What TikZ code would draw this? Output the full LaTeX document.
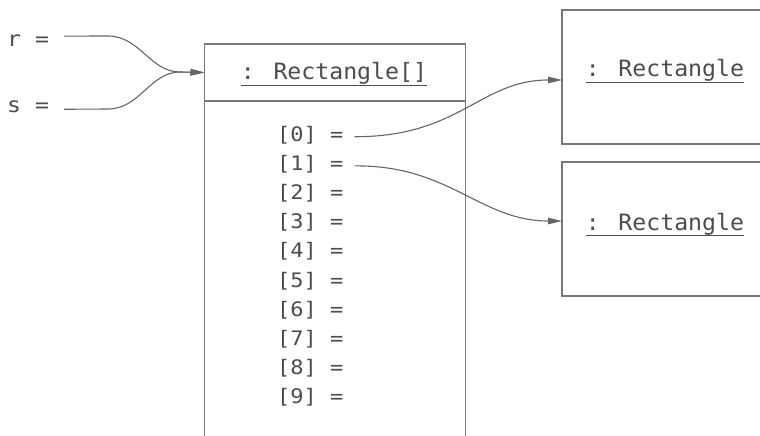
\documentclass[tikz,border=0pt]{standalone}
\usepackage{fontspec}
\newfontfamily\gothic[FakeStretch=1.1]{DejaVu Sans Mono}
\newfontfamily\gothichead[FakeStretch=1.03]{DejaVu Sans Mono}
\usetikzlibrary{arrows.meta}
\definecolor{ink}{HTML}{4C4C4C}
\definecolor{edge}{HTML}{777777}
\definecolor{wire}{HTML}{666666}
\newcommand\ulbox[1]{\setbox0\hbox{#1}\rlap{\rule[-6pt]{\wd0}{1.1pt}}\box0}
\tikzset{
  objbox/.style={draw=edge, line width=1.1pt, anchor=north west, inner sep=0pt, outer sep=0pt},
  headtext/.style={anchor=base, inner sep=0pt, text=ink, font=\gothichead\fontsize{22.5}{26}\selectfont},
  rowtext/.style={anchor=base west, inner sep=0pt, text=ink, font=\gothic\fontsize{20}{24}\selectfont},
  vartext/.style={anchor=base west, inner sep=0pt, text=ink, font=\gothic\fontsize{21}{25}\selectfont},
  conn/.style={draw=wire, line width=1.1pt, -{Triangle[length=14pt,width=6.5pt]}},
}
\begin{document}
\begin{tikzpicture}[x=1pt,y=-1pt]
\useasboundingbox (0,0) rectangle (760,436);
\clip (0,0) rectangle (760,436);
\fill[white] (0,0) rectangle (760,436);

% array object
\node[objbox, minimum width=261pt, minimum height=57pt] (head) at (204.5,44) {};
\node[objbox, minimum width=261pt, minimum height=400pt] (body) at (head.south west) {};
\node[headtext] (title) at (334,80) {\ulbox{: Rectangle[]}};

% rectangle objects
\node[objbox, minimum width=220pt, minimum height=134pt] (o1) at (562,10) {};
\node[objbox, minimum width=220pt, minimum height=134pt] (o2) at (562,162) {};
\node[headtext] (o1t) at (665,77) {\ulbox{: Rectangle}};
\node[headtext] (o2t) at (665,230) {\ulbox{: Rectangle}};

% variables
\node[vartext] (r) at (7,47) {r =};
\node[vartext] (s) at (7,112) {s =};

% rows
\foreach \i in {0,...,9}
  \node[rowtext] (row\i) at (277,141+29.2*\i) {[\i] =};

% connector end points
\coordinate (rs) at ([xshift=15pt,yshift=5pt]r.east);
\coordinate (ss) at ([xshift=15pt,yshift=-3pt]s.east);
\coordinate (p0) at ([xshift=11pt,yshift=-2pt]row0.east);
\coordinate (p1) at ([xshift=11pt,yshift=-2pt]row1.east);
\coordinate (t1) at ([yshift=-3pt]o1.west);
\coordinate (t2) at ([yshift=8pt]o2.west);

\draw[conn] (rs) -- (108,36) .. controls (140,36) and (150,72) .. (180,72) -- (head.west);
\draw[conn] (ss) -- (108,109) .. controls (140,109) and (150,72) .. (180,72) -- (head.west);
\draw[conn] (p0) .. controls (460,137) and (480,80) .. (t1);
\draw[conn] (p1) .. controls (450,165) and (480,221) .. (t2);
\end{tikzpicture}
\end{document}
